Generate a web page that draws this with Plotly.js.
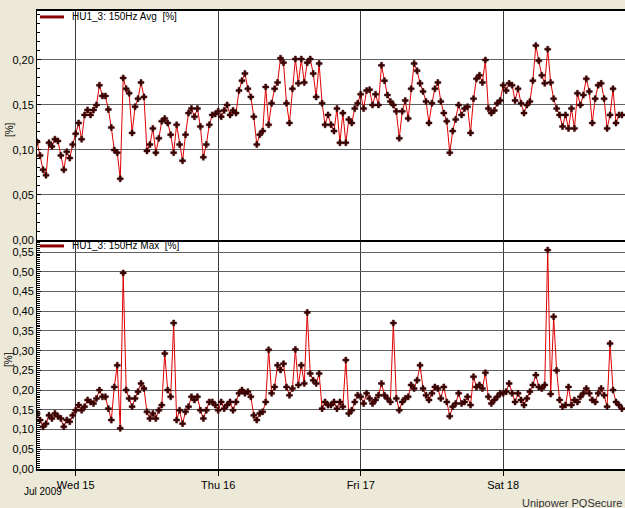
<!DOCTYPE html>
<html>
<head>
<meta charset="utf-8">
<script src="https://cdn.plot.ly/plotly-3.0.1.min.js"></script>
<style>html,body{margin:0;padding:0;background:#ECE9D8;}#chart{width:625px;height:508px;}</style>
</head>
<body>
<div id="chart"></div>
<script>
// Sampling of both series: every 30 minutes from this start time
const startTime = '2009-07-14T17:30:00';
const intervalMinutes = 30;

// HU1_3: 150Hz Avg [%]
const avgValues = [
0.109,0.094,0.078,0.072,0.108,0.104,0.112,0.110,0.094,0.078,
0.098,0.091,0.106,0.118,0.130,0.112,0.139,0.1445,0.139,0.1445,
0.150,0.172,0.160,0.160,0.145,0.125,0.100,0.097,0.068,0.180,
0.168,0.163,0.119,0.148,0.157,0.175,0.159,0.099,0.106,0.124,
0.097,0.113,0.132,0.135,0.130,0.117,0.097,0.128,0.106,0.088,
0.117,0.141,0.146,0.137,0.146,0.126,0.092,0.106,0.128,0.139,
0.140,0.143,0.137,0.144,0.150,0.139,0.144,0.141,0.166,0.177,
0.185,0.168,0.159,0.137,0.106,0.117,0.121,0.170,0.128,0.152,
0.168,0.175,0.202,0.197,0.152,0.130,0.168,0.201,0.174,0.201,
0.175,0.197,0.201,0.185,0.159,0.196,0.152,0.128,0.139,0.128,
0.121,0.146,0.108,0.141,0.108,0.134,0.130,0.146,0.152,0.162,
0.146,0.166,0.167,0.150,0.162,0.150,0.194,0.177,0.161,0.154,
0.150,0.143,0.113,0.143,0.155,0.135,0.168,0.196,0.188,0.174,
0.165,0.154,0.130,0.152,0.168,0.175,0.154,0.141,0.132,0.097,
0.121,0.134,0.150,0.139,0.146,0.148,0.119,0.157,0.179,0.183,
0.175,0.200,0.146,0.141,0.144,0.152,0.155,0.172,0.166,0.174,
0.172,0.155,0.168,0.152,0.141,0.150,0.154,0.177,0.216,0.199,
0.183,0.174,0.212,0.175,0.157,0.146,0.139,0.126,0.139,0.124,
0.146,0.124,0.163,0.150,0.161,0.179,0.165,0.130,0.157,0.172,
0.174,0.157,0.124,0.139,0.168,0.130,0.139,0.139
];

// HU1_3: 150Hz Max [%]
const maxValues = [
0.141,0.124,0.107,0.115,0.136,0.128,0.141,0.134,0.128,0.107,
0.124,0.120,0.136,0.149,0.162,0.149,0.158,0.175,0.170,0.166,
0.179,0.200,0.183,0.183,0.153,0.124,0.208,0.263,0.103,0.497,
0.200,0.179,0.158,0.179,0.196,0.217,0.204,0.145,0.128,0.141,
0.128,0.149,0.162,0.293,0.200,0.183,0.370,0.124,0.149,0.115,
0.145,0.158,0.183,0.175,0.183,0.149,0.128,0.149,0.170,0.170,
0.162,0.149,0.170,0.153,0.162,0.170,0.149,0.170,0.192,0.200,
0.192,0.196,0.183,0.136,0.124,0.141,0.145,0.170,0.302,0.192,
0.208,0.263,0.251,0.267,0.208,0.187,0.204,0.303,0.213,0.263,
0.217,0.397,0.242,0.225,0.217,0.242,0.153,0.170,0.162,0.162,
0.170,0.153,0.170,0.158,0.276,0.141,0.149,0.170,0.187,0.183,
0.166,0.192,0.179,0.166,0.175,0.187,0.217,0.187,0.179,0.170,
0.370,0.179,0.149,0.170,0.179,0.183,0.213,0.204,0.225,0.263,
0.204,0.187,0.175,0.192,0.208,0.204,0.179,0.208,0.170,0.134,
0.158,0.166,0.192,0.166,0.170,0.183,0.162,0.234,0.208,0.213,
0.204,0.244,0.183,0.166,0.175,0.183,0.192,0.192,0.196,0.217,
0.192,0.170,0.192,0.175,0.162,0.179,0.196,0.213,0.238,0.208,
0.204,0.213,0.555,0.190,0.386,0.250,0.175,0.158,0.162,0.208,
0.162,0.175,0.170,0.183,0.192,0.204,0.192,0.175,0.170,0.192,
0.204,0.187,0.158,0.318,0.200,0.170,0.162,0.153
];

const xRange = ['2009-07-14 17:29', '2009-07-18 20:31'];
const dayTick0 = '2009-07-15';
const avgTickVals = [0, 0.05, 0.10, 0.15, 0.20];
const maxTickVals = [0, 0.05, 0.10, 0.15, 0.20, 0.25, 0.30, 0.35, 0.40, 0.45, 0.50, 0.55];
const avgLabel = 'HU1_3: 150Hz Avg\u00a0\u00a0[%]';
const maxLabel = 'HU1_3: 150Hz Max\u00a0\u00a0[%]';

function buildTimes(n) {
  const t0 = Date.parse(startTime + 'Z');
  const out = [];
  for (let i = 0; i < n; i++) {
    out.push(new Date(t0 + i * intervalMinutes * 60000).toISOString().slice(0, 19).replace('T', ' '));
  }
  return out;
}
const times = buildTimes(avgValues.length);

const lineStyle = {color: '#e00000', width: 1};
const markerStyle = {symbol: 'cross', size: 5, color: '#3a0000', line: {color: '#3a0000', width: 0.5}};

const traces = [
  {x: times, y: avgValues, xaxis: 'x2', yaxis: 'y2', type: 'scatter', mode: 'lines+markers',
   line: lineStyle, marker: markerStyle, showlegend: false, hoverinfo: 'skip'},
  {x: times, y: maxValues, xaxis: 'x', yaxis: 'y', type: 'scatter', mode: 'lines+markers',
   line: lineStyle, marker: markerStyle, showlegend: false, hoverinfo: 'skip'}
];

const tickFont = {family: 'Liberation Sans, Arial, sans-serif', size: 11, color: '#000'};
const legendFont = {family: 'Liberation Sans, Arial, sans-serif', size: 10, color: '#000'};
const gridY = '#606060';
const gridX = '#3a3a3a';

const layout = {
  width: 625, height: 508,
  margin: {l: 37, r: 0, t: 11, b: 39},
  paper_bgcolor: '#ECE9D8',
  plot_bgcolor: '#ffffff',
  separators: ',.',
  showlegend: false,
  font: tickFont,
  xaxis: {
    domain: [0, 1], anchor: 'y', type: 'date', range: xRange,
    tick0: dayTick0, dtick: 86400000, tickformat: '%a %d',
    ticks: 'outside', ticklen: 5, tickcolor: '#000',
    showgrid: true, gridcolor: gridX, gridwidth: 1,
    showline: true, linecolor: '#000', linewidth: 2,
    zeroline: false, tickfont: tickFont, fixedrange: true
  },
  yaxis: {
    domain: [0, 0.5], anchor: 'x', range: [0, 0.5805],
    tickmode: 'array', tickvals: maxTickVals, tickformat: '.2f',
    ticks: 'inside', ticklen: 4, tickcolor: '#000',
    minor: {tickmode: 'linear', tick0: 0, dtick: 0.005, ticks: 'inside', ticklen: 3, tickcolor: '#000', showgrid: false},
    showgrid: true, gridcolor: gridY, gridwidth: 1,
    showline: true, linecolor: '#000', linewidth: 1,
    zeroline: false, tickfont: tickFont, fixedrange: true
  },
  xaxis2: {
    domain: [0, 1], anchor: 'y2', type: 'date', range: xRange,
    tick0: dayTick0, dtick: 86400000,
    showticklabels: false, ticks: '',
    showgrid: true, gridcolor: gridX, gridwidth: 1,
    showline: true, mirror: true, linecolor: '#000', linewidth: 2,
    zeroline: false, fixedrange: true
  },
  yaxis2: {
    domain: [0.5, 1], anchor: 'x2', range: [0, 0.2544],
    tickmode: 'array', tickvals: avgTickVals, tickformat: '.2f',
    ticks: 'inside', ticklen: 4, tickcolor: '#000',
    minor: {tickmode: 'linear', tick0: 0, dtick: 0.01, ticks: 'inside', ticklen: 3, tickcolor: '#000', showgrid: false},
    showgrid: true, gridcolor: gridY, gridwidth: 1,
    showline: true, linecolor: '#000', linewidth: 1,
    zeroline: false, tickfont: tickFont, fixedrange: true
  },
  shapes: [
    {type: 'line', xref: 'paper', yref: 'paper', x0: 0.005, x1: 0.046, y0: 0.987, y1: 0.987,
     line: {color: '#8b0000', width: 3}},
    {type: 'line', xref: 'paper', yref: 'paper', x0: 0.005, x1: 0.046, y0: 0.487, y1: 0.487,
     line: {color: '#8b0000', width: 3}}
  ],
  annotations: [
    {xref: 'paper', yref: 'paper', x: 0.056, y: 0.987, xanchor: 'left', yanchor: 'middle',
     text: avgLabel, showarrow: false, font: legendFont},
    {xref: 'paper', yref: 'paper', x: 0.056, y: 0.487, xanchor: 'left', yanchor: 'middle',
     text: maxLabel, showarrow: false, font: legendFont},
    {xref: 'paper', yref: 'paper', x: 0, xshift: -28, y: 0.740, xanchor: 'center', yanchor: 'middle',
     text: '[%]', textangle: -90, showarrow: false, font: legendFont},
    {xref: 'paper', yref: 'paper', x: 0, xshift: -28, y: 0.238, xanchor: 'center', yanchor: 'middle',
     text: '[%]', textangle: -90, showarrow: false, font: legendFont},
    {xref: 'paper', yref: 'paper', x: 0.0102, y: -0.0502, xanchor: 'center', yanchor: 'middle',
     text: 'Jul 2009', showarrow: false, font: legendFont},
    {xref: 'paper', yref: 'paper', x: 1, xshift: -1, y: -0.0742, xanchor: 'right', yanchor: 'middle',
     text: 'Unipower PQSecure', showarrow: false,
     font: {family: 'Liberation Sans, Arial, sans-serif', size: 11, color: '#333'}}
  ]
};

Plotly.newPlot('chart', traces, layout, {displayModeBar: false, staticPlot: true});
</script>
</body>
</html>
